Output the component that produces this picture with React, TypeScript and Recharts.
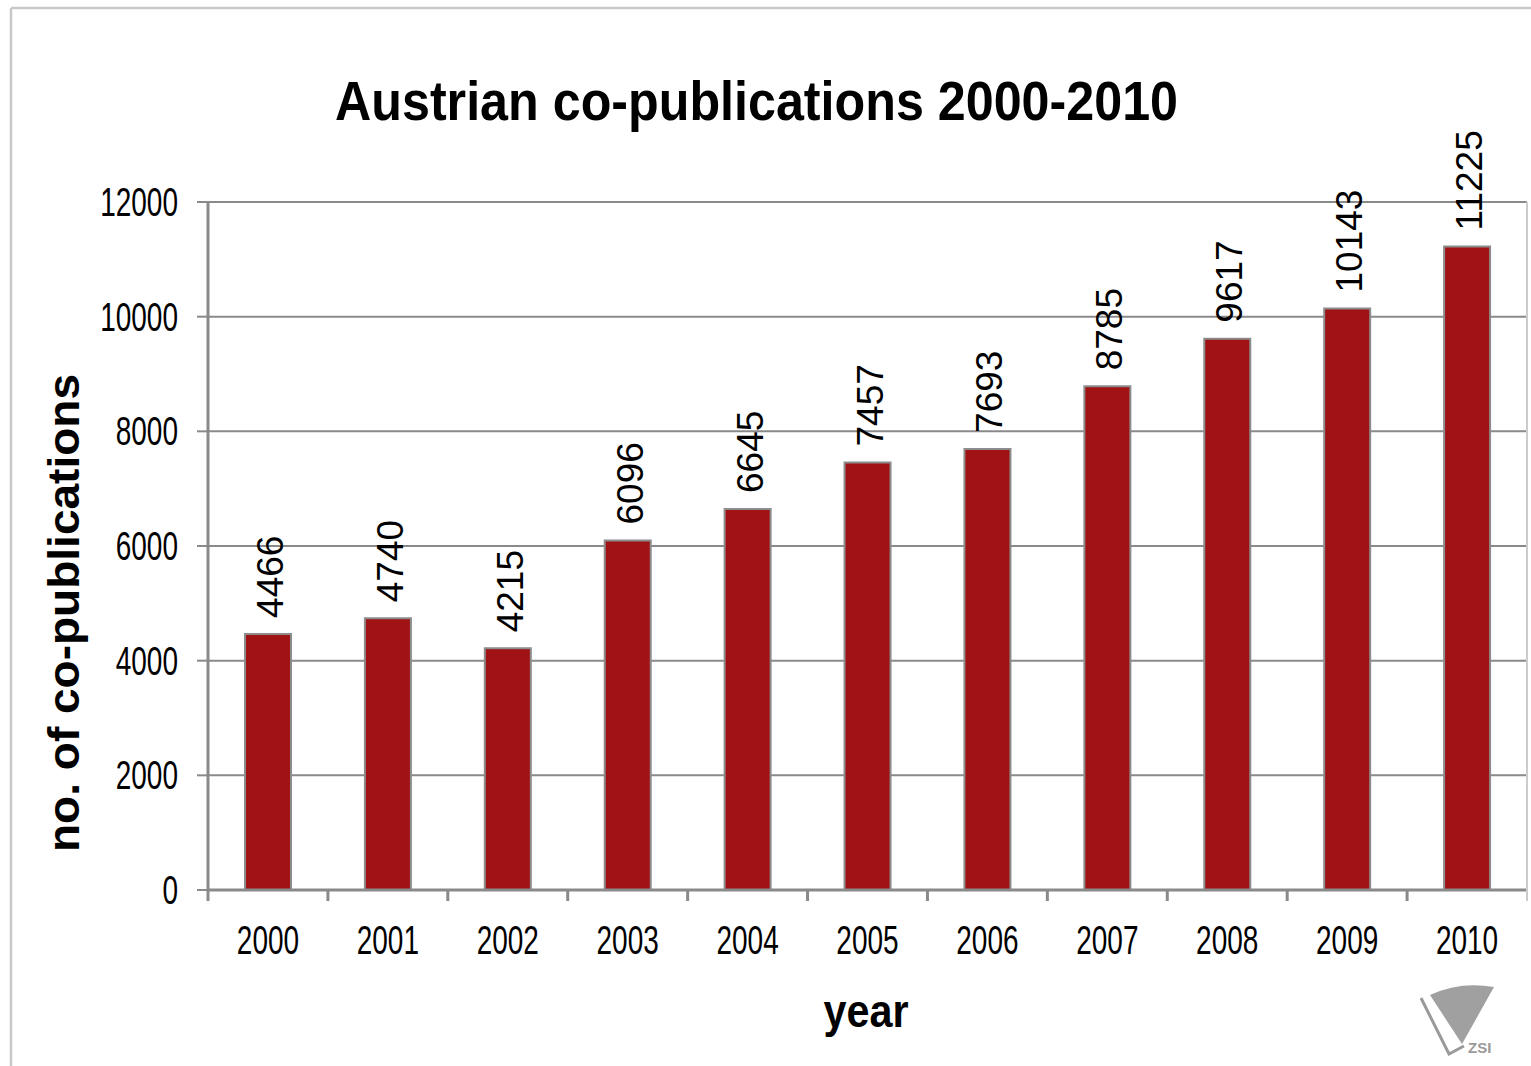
import React from 'react';
import { BarChart, Bar, XAxis, YAxis, CartesianGrid, LabelList } from 'recharts';

const years = ['2000', '2001', '2002', '2003', '2004', '2005', '2006', '2007', '2008', '2009', '2010'];
const publications = [4466, 4740, 4215, 6096, 6645, 7457, 7693, 8785, 9617, 10143, 11225];
const yTicks = [0, 2000, 4000, 6000, 8000, 10000, 12000];
const titleText = 'Austrian co-publications 2000-2010';
const yTitle = 'no. of co-publications';
const xTitle = 'year';

const data = years.map((y, i) => ({ year: y, value: publications[i] }));

const FONT = '"Liberation Sans", Arial, sans-serif';
const AXIS_GRAY = '#8a8a8a';

const YTick = (props: any) => {
  const { x, y, payload } = props;
  return (
    <text
      transform={`translate(${x},${y + 14}) scale(0.7,1)`}
      textAnchor="end"
      fontFamily={FONT}
      fontSize={40}
      fill="#000"
    >
      {payload.value}
    </text>
  );
};

const XTick = (props: any) => {
  const { x, y, payload, index, width, visibleTicksCount } = props;
  const half =
    payload && typeof payload.offset === 'number' && payload.offset > 0
      ? payload.offset
      : width / visibleTicksCount / 2;
  const left = x - half;
  const right = x + half;
  const isLast = index === visibleTicksCount - 1;
  return (
    <g>
      <line x1={left} x2={left} y1={y} y2={y + 11} stroke={AXIS_GRAY} strokeWidth={3} />
      {isLast && <line x1={right} x2={right} y1={y} y2={y + 11} stroke="#cccccc" strokeWidth={2} />}
      <text
        transform={`translate(${x},${y + 64}) scale(0.7,1)`}
        textAnchor="middle"
        fontFamily={FONT}
        fontSize={40}
        fill="#000"
      >
        {payload.value}
      </text>
    </g>
  );
};

const ValueLabel = (props: any) => {
  const { x, y, width, value } = props;
  const cx = x + width / 2;
  const ty = y - 16;
  return (
    <text
      transform={`translate(${cx},${ty}) rotate(-90)`}
      textAnchor="start"
      dy={15}
      fontFamily={FONT}
      fontSize={37}
      fill="#000"
    >
      {value}
    </text>
  );
};

export default function App() {
  return (
    <div style={{ position: 'fixed', left: 0, top: 0, width: 1531, height: 1066, background: '#fff' }}>
      <BarChart
        width={1531}
        height={1066}
        data={data}
        margin={{ top: 202, right: 0, bottom: 0, left: 0 }}
        barCategoryGap={0}
      >
        <CartesianGrid horizontal vertical={false} stroke={AXIS_GRAY} strokeWidth={2} />
        <XAxis
          dataKey="year"
          height={176}
          axisLine={{ stroke: AXIS_GRAY, strokeWidth: 3 }}
          tickLine={false}
          tickSize={0}
          tickMargin={0}
          interval={0}
          tick={<XTick />}
        />
        <YAxis
          width={208}
          domain={[0, 12000]}
          ticks={yTicks}
          interval={0}
          axisLine={{ stroke: AXIS_GRAY, strokeWidth: 3 }}
          tickLine={{ stroke: AXIS_GRAY, strokeWidth: 2 }}
          tickSize={11}
          tickMargin={19}
          tick={<YTick />}
        />
        <YAxis
          yAxisId="right"
          orientation="right"
          width={4}
          domain={[0, 12000]}
          axisLine={{ stroke: '#cccccc', strokeWidth: 2 }}
          tick={false}
          tickLine={false}
        />
        <Bar
          dataKey="value"
          fill="#A01214"
          stroke="#8c8c8c"
          strokeWidth={2}
          barSize={46}
          isAnimationActive={false}
        >
          <LabelList dataKey="value" content={<ValueLabel />} />
        </Bar>
      </BarChart>
      <svg
        width={1531}
        height={1066}
        style={{ position: 'absolute', left: 0, top: 0, pointerEvents: 'none' }}
      >
        <line x1={11} y1={8} x2={1531} y2={8} stroke="#c8c8c8" strokeWidth={2.5} />
        <line x1={11} y1={8} x2={11} y2={1066} stroke="#c8c8c8" strokeWidth={2.5} />
        <text
          x={335}
          y={120}
          fontFamily={FONT}
          fontWeight="bold"
          fontSize={55}
          textLength={843}
          lengthAdjust="spacingAndGlyphs"
          fill="#000"
        >
          {titleText}
        </text>
        <text
          transform="translate(79,613) rotate(-90)"
          textAnchor="middle"
          fontFamily={FONT}
          fontWeight="bold"
          fontSize={44}
          textLength={478}
          lengthAdjust="spacingAndGlyphs"
          fill="#000"
        >
          {yTitle}
        </text>
        <text
          x={866}
          y={1027}
          textAnchor="middle"
          fontFamily={FONT}
          fontWeight="bold"
          fontSize={47}
          textLength={85}
          lengthAdjust="spacingAndGlyphs"
          fill="#000"
        >
          {xTitle}
        </text>
        <g>
          <path d="M1421,998 L1449,1054 L1464,1046" fill="none" stroke="#9a9a9a" strokeWidth={3} />
          <path d="M1430,995 Q1460,981 1494,987 L1462,1044 Z" fill="#a0a0a0" />
          <text x={1468} y={1053} fontFamily={FONT} fontWeight="bold" fontSize={15} fill="#9a9a9a">
            ZSI
          </text>
        </g>
      </svg>
    </div>
  );
}
